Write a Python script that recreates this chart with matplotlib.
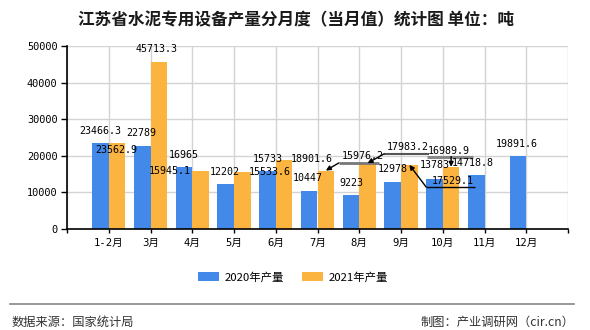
import matplotlib
matplotlib.use("Agg")
import matplotlib.pyplot as plt
import matplotlib.transforms as mtransforms
from matplotlib.patches import Patch
import numpy as np

categories = ["1-2月", "3月", "4月", "5月", "6月", "7月", "8月", "9月", "10月", "11月", "12月"]
prod_2020 = [23466.3, 22789, 16965, 12202, 15733, 10447, 9223, 12978, 13783, 14718.8, 19891.6]
prod_2021 = [23562.9, 45713.3, 15945.1, 15533.6, 18901.6, 15976.2, 17983.2, 17529.1, 16989.9]
series_names = ["2020年产量", "2021年产量"]
yticks = [0, 10000, 20000, 30000, 40000, 50000]

title = "江苏省水泥专用设备产量分月度（当月值）统计图 单位：吨"
source = "数据来源：国家统计局"
credit = "制图：产业调研网（cir.cn）"

C20 = "#4389EA"
C21 = "#FCB441"
MONO = ["DejaVu Sans Mono", "Noto Sans CJK SC"]
CJK = ["Noto Sans CJK SC", "DejaVu Sans"]

fig = plt.figure(figsize=(5.9, 3.3), dpi=100)
ax = fig.add_axes([67 / 590, 1 - 229 / 330, (568 - 67) / 590, (229 - 46) / 330])

x = np.arange(len(categories))
w = 0.4
ax.bar(x - w / 2, prod_2020, width=w, color=C20, zorder=2)
x21 = np.arange(len(prod_2021))
ax.bar(x21 + w / 2, prod_2021, width=w, color=C21, zorder=2)

ax.set_xlim(-1, len(categories))
ax.set_ylim(0, 50000)
ax.set_yticks(yticks)
ax.set_yticklabels([str(t) for t in yticks], family=MONO, fontsize=7.4)
ax.set_xticks(np.arange(-1, len(categories) + 1))
ax.set_xticklabels([""] + categories + [""], family=MONO, fontsize=7.6)
ax.tick_params(axis="y", length=4.3, width=1, pad=2.5, color="black")
ax.tick_params(axis="x", length=3, width=1, pad=3.5, color="black")
ax.grid(True, color="#d3d3d3", linewidth=1, zorder=0)
for s in ["top", "right"]:
    ax.spines[s].set_visible(False)
for s in ["left", "bottom"]:
    ax.spines[s].set_color("black")
    ax.spines[s].set_linewidth(1.2)
ax.set_axisbelow(True)

# label offsets in pixels relative to bar top-centre
off20 = [(0, 12), (-1, 13), (0, 12), (-1, 12), (0, 12.5), (-1, 13), (0, 12.5), (0, 12.5), (0, 13.5), (-3, 12), (-1, 12)]
off21 = [(-1, -7.5), (-2, 12.4), (-30.5, 0), (27.6, 0), (28, 1), (37, 14.6), (40.4, 16.6), (43.7, -16), (-2, 15.8)]

def fmt(v):
    return ("%g" % v)

for i, v in enumerate(prod_2020):
    ax.annotate(fmt(v), xy=(i - w / 2, v), xytext=off20[i], textcoords="offset pixels",
                ha="center", va="center", family=MONO, fontsize=7.2, zorder=5)
for i, v in enumerate(prod_2021):
    ax.annotate(fmt(v), xy=(i + w / 2, v), xytext=off21[i], textcoords="offset pixels",
                ha="center", va="center", family=MONO, fontsize=7.2, zorder=5)

# leader lines: (index, polyline points in px offsets from bar top, color, lw)
leaders = [
    (5, [(13, 7.6), (53, 7.6)], "#777777", 2.0),
    (6, [(16.4, 9.3), (61.4, 9.3)], "#555555", 1.5),
    (7, [(16.7, -22), (65.7, -22)], "#000000", 1.0),
    (8, [(-24, 10.3), (22, 10.3)], "#888888", 2.2),
]
arrows = [
    (5, (13, 7.6)),
    (6, (16.4, 9.3)),
    (7, (16.7, -22)),
    (8, (0, 10.3)),
]
for idx, p, col, lw in leaders:
    trans = mtransforms.Affine2D() + mtransforms.ScaledTranslation(idx + w / 2, prod_2021[idx], ax.transData)
    xs = [q[0] for q in p]
    ys = [q[1] for q in p]
    ax.plot(xs, ys, transform=trans, color=col, lw=lw, clip_on=False, zorder=4, solid_capstyle="butt")
for idx, start in arrows:
    trans = mtransforms.Affine2D() + mtransforms.ScaledTranslation(idx + w / 2, prod_2021[idx], ax.transData)
    ax.annotate("", xy=(0, 0), xycoords=trans, xytext=start, textcoords=trans,
                arrowprops=dict(arrowstyle="-|>", color="black", lw=1.0, mutation_scale=7,
                                shrinkA=0, shrinkB=0), zorder=4)

fig.text(296 / 590, 1 - 20 / 330, title, ha="center", va="center", family=CJK,
         fontsize=12, fontweight="bold", color="#1a1a1a")

handles = [Patch(facecolor=C20, edgecolor="none"), Patch(facecolor=C21, edgecolor="none")]
fig.legend(handles, series_names, loc="center", bbox_to_anchor=(293 / 590, 1 - 277 / 330), ncol=2,
           frameon=False, prop={"family": CJK, "size": 8.2}, handlelength=1.85, handleheight=0.88,
           handletextpad=0.5, columnspacing=1.5)

fig.add_artist(plt.Line2D([10 / 590, 574 / 590], [1 - 303.5 / 330, 1 - 303.5 / 330],
                          transform=fig.transFigure, color="#888888", lw=1.2))
fig.text(12 / 590, 1 - 322 / 330, source, ha="left", va="center", family=CJK, fontsize=8.8, color="#333333")
fig.text(574 / 590, 1 - 322 / 330, credit, ha="right", va="center", family=CJK, fontsize=8.8, color="#333333")

fig.savefig("out.png", dpi=100)
